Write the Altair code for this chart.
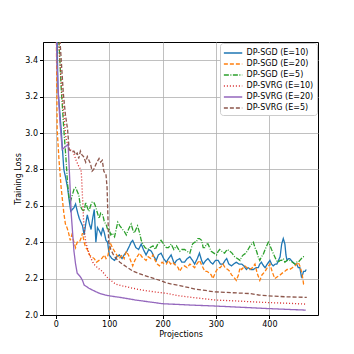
import altair as alt
import pandas as pd

series_names = ["DP-SGD (E=10)", "DP-SGD (E=20)", "DP-SGD (E=5)",
                "DP-SVRG (E=10)", "DP-SVRG (E=20)", "DP-SVRG (E=5)"]
series_colors = ["#1f77b4", "#ff7f0e", "#2ca02c", "#d62728", "#9467bd", "#8c564b"]
series_dashes = [[1, 0], [4, 2], [5, 1.5, 1, 1.5], [1, 2], [1, 0], [4, 2]]

sgd10_x = [0, 4, 10, 15, 18, 22, 25, 28, 31, 34, 37, 41, 44, 47, 50, 53, 56, 59, 63, 66, 69, 72, 75, 78, 82, 85, 88, 91, 94, 97, 100,
           105, 110, 114, 119, 124, 128, 133, 138, 141, 144, 147, 150, 155, 160, 164, 169, 174, 179, 184, 188, 192, 197, 202, 207,
           211, 216, 222, 226, 232, 236, 241, 246, 251, 256, 260, 265, 269, 273, 276, 281, 285, 290, 294, 299, 304, 308, 313, 317,
           320, 324, 329, 333, 338, 343, 348, 352, 357, 360, 365, 370, 375, 379, 382, 385, 389, 392, 396, 401, 404, 407, 411, 414,
           417, 420, 423, 426, 429, 431, 433, 436, 438, 441, 444, 448, 451, 454, 457, 460, 462, 464, 467, 469]
sgd10_y = [3.95, 3.24, 3.02, 2.80, 2.76, 2.70, 2.63, 2.57, 2.58, 2.59, 2.61, 2.56, 2.53, 2.51, 2.49, 2.44, 2.50, 2.55, 2.50, 2.47,
           2.53, 2.58, 2.40, 2.48, 2.46, 2.44, 2.48, 2.45, 2.41, 2.40, 2.33,
           2.31, 2.30, 2.32, 2.33, 2.31, 2.33, 2.35, 2.38, 2.40, 2.41, 2.39, 2.37, 2.36, 2.39, 2.36, 2.33, 2.36, 2.35, 2.32, 2.30,
           2.33, 2.34, 2.31, 2.29, 2.31, 2.33, 2.28, 2.30, 2.31, 2.29, 2.29, 2.31, 2.32, 2.30, 2.28, 2.31, 2.34, 2.30, 2.28, 2.30,
           2.31, 2.29, 2.28, 2.30, 2.30, 2.28, 2.28, 2.30, 2.31, 2.28, 2.27, 2.28, 2.29, 2.28, 2.28, 2.27, 2.25, 2.26, 2.25, 2.25,
           2.26, 2.26, 2.28, 2.29, 2.27, 2.26, 2.28, 2.30, 2.28, 2.27, 2.28, 2.28, 2.30, 2.32, 2.39, 2.42, 2.39, 2.33, 2.30, 2.31,
           2.31, 2.30, 2.29, 2.28, 2.28, 2.26, 2.26, 2.21, 2.22, 2.24, 2.24, 2.25]

sgd20_x = [0, 2.5, 6, 10, 15, 18, 21, 24, 27, 30, 34, 37, 40, 44, 47, 50, 53, 56, 59, 63, 67, 72, 76, 81, 86, 91, 94, 97, 100, 103,
           106, 110, 114, 119, 124, 128, 132, 136, 140, 144, 148, 152, 157, 161, 165, 169, 173, 178, 182, 186, 190, 194, 199, 203,
           207, 211, 215, 219, 222, 226, 229, 232, 236, 241, 246, 251, 256, 260, 264, 269, 274, 279, 283, 288, 291, 294, 297, 300,
           304, 308, 313, 317, 322, 326, 329, 333, 338, 342, 345, 348, 354, 358, 363, 368, 373, 377, 382, 386, 392, 396, 401, 405,
           410, 415, 420, 424, 429, 433, 438, 443, 448, 451, 454, 457, 460, 462, 464, 467]
sgd20_y = [3.90, 3.02, 2.85, 2.70, 2.56, 2.50, 2.48, 2.45, 2.41, 2.44, 2.40, 2.37, 2.40, 2.40, 2.42, 2.45, 2.40, 2.37, 2.36, 2.33,
           2.32, 2.31, 2.29, 2.30, 2.31, 2.33, 2.31, 2.32, 2.36, 2.39,
           2.37, 2.35, 2.33, 2.31, 2.33, 2.31, 2.35, 2.33, 2.30, 2.27, 2.30, 2.32, 2.34, 2.32, 2.31, 2.30, 2.32, 2.31, 2.33, 2.30,
           2.28, 2.27, 2.29, 2.28, 2.28, 2.30, 2.28, 2.29, 2.28, 2.27, 2.26, 2.24, 2.26, 2.27, 2.26, 2.28, 2.27, 2.26, 2.28, 2.30,
           2.27, 2.24, 2.24, 2.23, 2.22, 2.20, 2.22, 2.24, 2.26, 2.26, 2.28, 2.26, 2.25, 2.24, 2.22, 2.21, 2.19, 2.22, 2.26, 2.25,
           2.27, 2.26, 2.25, 2.26, 2.28, 2.23, 2.19, 2.22, 2.24, 2.26, 2.28, 2.24, 2.20, 2.21, 2.22, 2.23, 2.24, 2.25, 2.25, 2.26,
           2.27, 2.28, 2.29, 2.27, 2.24, 2.21, 2.17, 2.17]

sgd5_x = [0, 6, 10, 15, 19, 22, 25, 27, 31, 34, 37, 40, 43, 46, 49, 53, 56, 59, 62, 65, 68, 71, 74, 77, 81, 84, 88, 91, 94, 97, 100,
          103, 106, 110, 113, 116, 120, 125, 128, 132, 136, 141, 144, 147, 150, 153, 157, 160, 163, 167, 172, 176, 182, 186, 191,
          194, 197, 202, 207, 211, 216, 221, 226, 232, 236, 241, 246, 251, 254, 256, 260, 263, 266, 269, 273, 276, 279, 282, 285,
          288, 291, 296, 301, 304, 307, 311, 316, 321, 326, 330, 335, 340, 345, 348, 351, 356, 360, 364, 367, 370, 373, 376, 379,
          382, 385, 388, 392, 395, 398, 400, 404, 407, 410, 413, 416, 420, 423, 426, 429, 433, 438, 443, 448, 451, 454, 457, 460,
          464, 467]
sgd5_y = [4.20, 3.50, 3.25, 3.02, 2.86, 2.72, 2.64, 2.62, 2.66, 2.69, 2.70, 2.68, 2.66, 2.60, 2.58, 2.57, 2.62, 2.59, 2.57, 2.60,
          2.62, 2.62, 2.60, 2.57, 2.53, 2.56, 2.55, 2.51, 2.50, 2.47, 2.47,
          2.44, 2.45, 2.43, 2.47, 2.51, 2.49, 2.47, 2.46, 2.44, 2.47, 2.50, 2.47, 2.45, 2.47, 2.49, 2.45, 2.41, 2.39, 2.37, 2.36,
          2.37, 2.38, 2.36, 2.39, 2.40, 2.41, 2.39, 2.37, 2.37, 2.39, 2.36, 2.38, 2.35, 2.36, 2.36, 2.35, 2.34, 2.37, 2.39, 2.40,
          2.40, 2.42, 2.42, 2.41, 2.37, 2.37, 2.39, 2.39, 2.37, 2.35, 2.34, 2.33, 2.35, 2.36, 2.35, 2.34, 2.36, 2.35, 2.34, 2.32,
          2.31, 2.30, 2.32, 2.33, 2.34, 2.36, 2.38, 2.39, 2.40, 2.37, 2.35, 2.32, 2.30, 2.32, 2.33, 2.36, 2.38, 2.40, 2.39, 2.36,
          2.34, 2.32, 2.30, 2.29, 2.30, 2.30, 2.31, 2.29, 2.30, 2.30, 2.29, 2.28, 2.29, 2.29, 2.30, 2.31, 2.32, 2.32]

svrg10_x = [0, 5, 12, 19, 25, 32, 38, 44, 47, 48, 50, 52, 54, 56, 59, 62, 66, 71, 78, 87, 95, 103, 112, 125, 144, 165, 185, 207,
            232, 260, 300, 340, 370, 400, 430, 468]
svrg10_y = [4.30, 3.50, 3.20, 2.97, 2.91, 2.90, 2.85, 2.81, 2.80, 2.77, 2.65, 2.52, 2.45, 2.40, 2.37, 2.34, 2.31, 2.28, 2.26, 2.24,
            2.21, 2.19, 2.17, 2.16, 2.147, 2.135, 2.127, 2.119, 2.105, 2.095, 2.082, 2.077, 2.072, 2.068, 2.065, 2.06]

svrg20_x = [0, 2, 5, 8, 12, 16, 20, 23, 26, 29, 31, 34, 37, 40, 46, 50, 53, 58, 62, 70, 81, 92, 103, 120, 150, 175, 200, 250, 300,
            350, 400, 440, 468]
svrg20_y = [3.80, 3.40, 3.20, 3.05, 2.91, 2.92, 2.93, 2.94, 2.75, 2.55, 2.47, 2.35, 2.28, 2.23, 2.21, 2.19, 2.165, 2.155, 2.147,
            2.135, 2.12, 2.11, 2.104, 2.097, 2.082, 2.072, 2.062, 2.055, 2.049, 2.042, 2.035, 2.03, 2.027]

svrg5_x = [0, 8, 14, 18, 22, 25, 28, 31, 34, 37, 40, 43, 46, 49, 52, 56, 59, 62, 65, 68, 71, 74, 77, 81, 84, 87, 90, 94, 96, 97,
           98, 99, 103, 108, 113, 120, 132, 145, 163, 179, 195, 207, 220, 232, 250, 263, 280, 294, 320, 340, 363, 380, 395, 430, 470]
svrg5_y = [4.50, 3.50, 3.22, 3.10, 3.02, 2.91, 2.90, 2.90, 2.90, 2.88, 2.89, 2.86, 2.90, 2.88, 2.87, 2.84, 2.87, 2.85, 2.83, 2.79,
           2.80, 2.82, 2.84, 2.86, 2.84, 2.85, 2.79, 2.77, 2.70, 2.60, 2.50, 2.40, 2.36, 2.33, 2.31, 2.29, 2.265, 2.24, 2.22,
           2.205, 2.19, 2.177, 2.168, 2.162, 2.15, 2.141, 2.135, 2.128, 2.124, 2.121, 2.118, 2.11, 2.106, 2.10, 2.097]

all_x = [sgd10_x, sgd20_x, sgd5_x, svrg10_x, svrg20_x, svrg5_x]
all_y = [sgd10_y, sgd20_y, sgd5_y, svrg10_y, svrg20_y, svrg5_y]

x_ticks = [0, 100, 200, 300, 400]
y_ticks = [2.0, 2.2, 2.4, 2.6, 2.8, 3.0, 3.2, 3.4]

rows = []
for name, xs, ys in zip(series_names, all_x, all_y):
    for i, (xv, yv) in enumerate(zip(xs, ys)):
        rows.append({"series": name, "x": xv, "y": yv, "order": i})
df = pd.DataFrame(rows)

FONT = "DejaVu Sans"

chart = alt.Chart(df).mark_line(clip=True, strokeWidth=1.3).encode(
    x=alt.X("x:Q", title="Projections",
            scale=alt.Scale(domain=[-24, 491], nice=False, zero=False),
            axis=alt.Axis(values=x_ticks, format="d")),
    y=alt.Y("y:Q", title="Training Loss",
            scale=alt.Scale(domain=[2.0, 3.5], nice=False, zero=False),
            axis=alt.Axis(values=y_ticks, format=".1f")),
    color=alt.Color("series:N", title=None,
                    scale=alt.Scale(domain=series_names, range=series_colors),
                    legend=alt.Legend(orient="none", legendX=177, legendY=1,
                                      symbolType="M-1,0L2,0", symbolSize=150,
                                      symbolStrokeWidth=1.5, symbolFillColor="transparent",
                                      labelFont=FONT, labelFontSize=8, labelColor="black",
                                      fillColor="white", strokeColor="#cccccc",
                                      padding=3, cornerRadius=3, rowPadding=0,
                                      labelOffset=9.5)),
    strokeDash=alt.StrokeDash("series:N", title=None,
                              scale=alt.Scale(domain=series_names, range=series_dashes)),
    order="order:Q",
    detail="series:N",
).properties(
    width=275, height=273,
    autosize=alt.AutoSizeParams(type="none"),
    padding={"left": 35, "top": 34, "right": 28, "bottom": 31},
).configure_view(
    stroke="black", strokeWidth=1
).configure_axis(
    labelFont=FONT, titleFont=FONT, labelFontSize=8, titleFontSize=8,
    labelColor="black", titleColor="black", titleFontWeight="normal",
    domainColor="black", tickColor="black", tickSize=3.5, labelPadding=2,
    gridColor="#b0b0b0", gridWidth=0.8, domainWidth=1
).configure_axisY(
    titlePadding=2
).configure_axisX(
    titlePadding=2
)

chart.save("out.html", embed_options={"renderer": "svg", "actions": False})
